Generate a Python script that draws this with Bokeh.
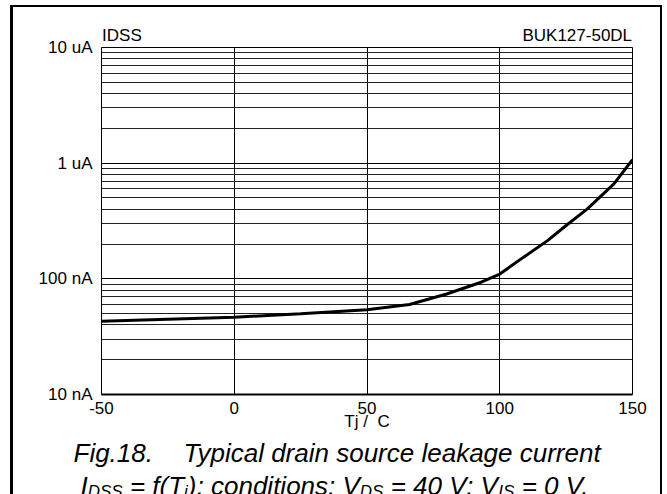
from bokeh.plotting import figure
from bokeh.layouts import column
from bokeh.models import (FixedTicker, CustomJSTickFormatter, Range1d, LinearAxis,
                          ColumnDataSource)
from bokeh.core.properties import value
from bokeh.embed import file_html
from bokeh.resources import INLINE

# ---- data ----
temp_c = [-50, 0, 25, 50, 66, 80, 93, 100, 109, 118, 125, 133, 143, 150]
idss_a = [43e-9, 46.6e-9, 50e-9, 54e-9, 60e-9, 74e-9, 93.5e-9, 110e-9,
          154e-9, 214e-9, 289e-9, 403e-9, 662e-9, 1.07e-6]

x_ticks = [-50, 0, 50, 100, 150]
x_tick_labels = ["-50", "0", "50", "100", "150"]
y_ticks = [1e-8, 1e-7, 1e-6, 1e-5]
y_tick_labels = ["10 nA", "100 nA", "1 uA", "10 uA"]
y_minor = [k * d for d in [1e-8, 1e-7, 1e-6] for k in range(2, 10)]

header_labels = ["IDSS", "BUK127-50DL"]
header_pos = [-42.3, 129.2]          # label centres, in temperature units

FONT = "Liberation Sans"

# ---------------- main chart ----------------
p = figure(width=647, height=430, output_backend="svg", toolbar_location=None,
           y_axis_type="log", x_range=Range1d(-50, 150), y_range=Range1d(1e-8, 1e-5),
           min_border_left=88, min_border_right=28, min_border_top=40, min_border_bottom=43)
p.frame_align = False
p.background_fill_color = "white"
p.border_fill_color = "white"
p.outline_line_color = "black"
p.outline_line_width = 1

xt = FixedTicker(ticks=x_ticks)
yt = FixedTicker(ticks=y_ticks, minor_ticks=y_minor)
xax = p.xaxis[0]
yax = p.yaxis[0]
xax.ticker = xt
yax.ticker = yt
p.xgrid.ticker = xt
p.ygrid.ticker = yt

xax.formatter = CustomJSTickFormatter(
    args=dict(vals=x_ticks, labs=x_tick_labels),
    code="""
for (let i = 0; i < vals.length; i++) {
  if (Math.abs(vals[i] - tick) < 1e-9) return labs[i];
}
return '';
""")
yax.formatter = CustomJSTickFormatter(
    args=dict(vals=y_ticks, labs=y_tick_labels),
    code="""
const k = Math.round(Math.log10(tick));
for (let i = 0; i < vals.length; i++) {
  if (Math.round(Math.log10(vals[i])) == k) return labs[i];
}
return '';
""")

for ax in (xax, yax):
    ax.major_tick_in = 0
    ax.major_tick_out = 0
    ax.minor_tick_in = 0
    ax.minor_tick_out = 0
    ax.major_label_text_font = FONT
    ax.major_label_text_font_size = "17px"
    ax.major_label_text_color = "black"

yax.axis_line_color = None
yax.major_label_standoff = 9
xax.axis_line_color = "black"
xax.axis_line_width = 2
xax.major_label_standoff = 7
xax.axis_label = "Tj /\u00a0\u00a0C"
xax.axis_label_text_font = FONT
xax.axis_label_text_font_style = "normal"
xax.axis_label_text_font_size = "17px"
xax.axis_label_text_color = "black"
xax.axis_label_standoff = -5

# header texts as labels of an axis above the chart
hax = LinearAxis(ticker=FixedTicker(ticks=header_pos),
                 formatter=CustomJSTickFormatter(args=dict(labs=header_labels),
                                                 code="return labs[index];"),
                 axis_line_color=None, major_tick_in=0, major_tick_out=0,
                 minor_tick_in=0, minor_tick_out=0, major_label_standoff=3,
                 major_label_text_font=FONT, major_label_text_font_size="17px",
                 major_label_text_color="black")
p.add_layout(hax, "above")

p.xgrid.grid_line_color = "black"
p.xgrid.grid_line_width = 1
p.ygrid.grid_line_color = "black"
p.ygrid.grid_line_width = 1
p.ygrid.minor_grid_line_color = "#222222"
p.ygrid.minor_grid_line_width = 1

p.line(temp_c, idss_a, line_color="black", line_width=3)

# ---------------- caption ----------------
p2 = figure(width=647, height=57, output_backend="svg", toolbar_location=None,
            x_range=Range1d(13, 660), y_range=Range1d(494, 437),
            x_axis_location=None, y_axis_location=None,
            min_border_left=0, min_border_right=0, min_border_top=0, min_border_bottom=0)
p2.frame_align = False
p2.outline_line_color = None
p2.grid.visible = False
p2.background_fill_color = "white"
p2.border_fill_color = "white"

W = {' ': .278, '=': .584, 'f': .278, '(': .333, ')': .333, 'T': .611, 'j': .222, ';': .278,
     'c': .5, 'o': .556, 'n': .556, 'd': .556, 'i': .222, 't': .278, 's': .5, ':': .278,
     'V': .667, 'D': .722, 'S': .667, 'I': .278, '4': .556, '0': .556, '.': .278}
F, f = 26, 17
L1, L2, LS = 452, 485, 481
main_x, main_y, main_t = [73, 183], [L1, L1], ["Fig.18.", "Typical drain source leakage current"]
sub_x, sub_y, sub_t = [], [], []
pieces = [("I", F, False, 0), ("DSS", f, True, 0), ("= f(T", F, False, 1), ("j", f, True, 0),
          ("); conditions: V", F, False, 0), ("DS", f, True, 0), ("= 40 V; V", F, False, 1),
          ("IS", f, True, 0), ("= 0 V.", F, False, 1)]
x = 80.0
for t, s, sub, lead in pieces:
    x += lead * W[' '] * s
    if sub:
        sub_x.append(x); sub_y.append(LS); sub_t.append(t)
    else:
        main_x.append(x); main_y.append(L2); main_t.append(t)
    x += sum(W[c] for c in t) * s

p2.text(x="x", y="y", text="t", source=ColumnDataSource(dict(x=main_x, y=main_y, t=main_t)),
        text_font=value(FONT), text_font_style="italic", text_font_size="26px",
        text_color="black", text_baseline="alphabetic", text_align="left")
p2.text(x="x", y="y", text="t", source=ColumnDataSource(dict(x=sub_x, y=sub_y, t=sub_t)),
        text_font=value(FONT), text_font_style="italic", text_font_size="17px",
        text_color="black", text_baseline="top", text_align="left")

root = column(p, p2, margin=(5, 0, 0, 10),
              styles={"border-left": "3px solid black", "border-top": "2px solid black",
                      "border-right": "2px solid black"})

open("out.html", "w").write(file_html(root, INLINE))
